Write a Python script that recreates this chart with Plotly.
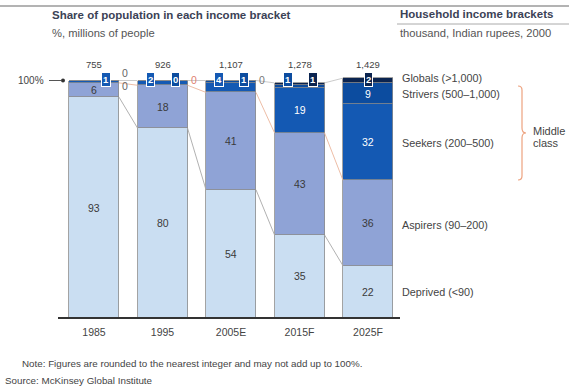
import plotly.graph_objects as go
import numpy as np

# ---------------- data ----------------
years = ["1985", "1995", "2005E", "2015F", "2025F"]
totals = ["755", "926", "1,107", "1,278", "1,429"]
deprived = [93, 80, 54, 35, 22]
aspirers = [6, 18, 41, 43, 36]
seekers = [1, 2, 4, 19, 32]
strivers = [0, 0, 1, 1, 9]
globals_ = [0, 0, 0, 1, 2]
bracket_labels = ["Globals (>1,000)", "Strivers (500–1,000)", "Seekers (200–500)",
                  "Aspirers (90–200)", "Deprived (<90)"]

series = [deprived, aspirers, seekers, strivers, globals_]
colors = ["#cadef2", "#8fa3d6", "#1459b3", "#0c4c9f", "#0b2450"]
text_colors = ["#3a3a3a", "#3a3a3a", "#ffffff", "#ffffff", "#ffffff"]
FAM = "Liberation Sans"

# ---------------- geometry helpers (page pixels) ----------------
W, H = 569, 392
TOP, BOT = 60, 318
X0, DX = 94.0, 68.5
DY = 2.375


def xd(px):
    return (px - X0) / DX


def yd(py):
    return (BOT - py) / DY


def PX(px):
    return px / W


def PY(py):
    return (BOT - py) / (BOT - TOP)


BW = 50 / DX
xs = list(range(len(years)))

fig = go.Figure()

# stacked bars
for s, c in zip(series, colors):
    fig.add_trace(go.Bar(x=xs, y=s, width=BW, marker=dict(color=c, line=dict(color="#8c8c8c", width=0.8)),
                         hoverinfo="skip", showlegend=False))

cum = np.cumsum(np.array(series), axis=0)
bottoms = cum - np.array(series)


def connector(level, color, width):
    for i in range(len(xs) - 1):
        fig.add_trace(go.Scatter(x=[xs[i] + BW / 2, xs[i + 1] - BW / 2], y=[level[i], level[i + 1]],
                                 mode="lines", line=dict(color=color, width=width),
                                 hoverinfo="skip", showlegend=False))


connector(cum[0], "#a8a8a8", 0.9)
connector(cum[1], "#ebb59c", 0.9)
connector(cum[4], "#c4c4c4", 0.9)

ann = []


def text(x, y, t, size, color, xanchor="center", xref="x", yref="y", **kw):
    ann.append(dict(x=x, y=y, xref=xref, yref=yref, text=t, showarrow=False, xanchor=xanchor,
                    yanchor="middle", font=dict(size=size, color=color, family=FAM), **kw))


# inside labels
for k, s in enumerate(series):
    for i, v in enumerate(s):
        if v >= 5:
            text(xs[i], bottoms[k][i] + v / 2, str(v), 10.5, text_colors[k])

# badges for small segments (tier index, horizontal offset in px)
badges = {0: [(2, 12)], 1: [(2, -12), (3, 13)], 2: [(2, -12), (3, 13)],
          3: [(3, -12), (4, 13)], 4: [(4, 0)]}
for i, lst in badges.items():
    for k, off in lst:
        text(xs[i] + off / DX, yd(79), "<b>%d</b>" % series[k][i], 9.5, "white",
             bgcolor=colors[k], bordercolor="white", borderwidth=1, borderpad=1)

# zero values placed outside
outside = [(0, 3, 73, "#666666"), (0, 4, 86, "#666666"), (1, 4, 80, "#e08070"), (2, 4, 80, "#777777")]
for i, k, py, col in outside:
    text(xs[i] + 31 / DX, yd(py), str(series[k][i]), 10.5, col)

# totals
for i, t in enumerate(totals):
    text(xs[i], yd(64), t, 9.5, "#444444")

# 100% marker
text(PX(46), PY(80.5), "100%", 10, "#444444", xanchor="right", xref="paper", yref="paper")

# right bracket labels
for lab, py in zip(bracket_labels, [78, 94, 143, 225, 292]):
    text(PX(400), PY(py), lab, 10.8, "#444444", xanchor="left", xref="paper", yref="paper")
text(PX(531), PY(131), "Middle", 11, "#444444", xanchor="left", xref="paper", yref="paper")
text(PX(531), PY(143), "class", 11, "#444444", xanchor="left", xref="paper", yref="paper")

# header
text(PX(50), PY(15.5), "<b>Share of population in each income bracket</b>", 11.5, "#3b4256",
     xanchor="left", xref="paper", yref="paper")
text(PX(50), PY(33), "%, millions of people", 11.2, "#555555", xanchor="left", xref="paper", yref="paper")
text(PX(398), PY(14.5), "<b>Household income brackets</b>", 11.5, "#3b4256",
     xanchor="left", xref="paper", yref="paper")
text(PX(398), PY(33), "thousand, Indian rupees, 2000", 11.2, "#555555", xanchor="left", xref="paper", yref="paper")

# footer
text(PX(20), PY(363), "Note: Figures are rounded to the nearest integer and may not add up to 100%.",
     9.8, "#444444", xanchor="left", xref="paper", yref="paper")
text(PX(3), PY(380), "Source: McKinsey Global Institute", 9.8, "#444444", xanchor="left",
     xref="paper", yref="paper")

shapes = [
    dict(type="line", xref="paper", yref="paper", x0=PX(0), x1=PX(569), y0=PY(6), y1=PY(6),
         line=dict(color="#9a9a9a", width=1.5)),
    dict(type="line", xref="paper", yref="paper", x0=PX(397), x1=PX(569), y0=PY(24), y1=PY(24),
         line=dict(color="#aaaaaa", width=1)),
    dict(type="line", xref="paper", yref="paper", x0=PX(58), x1=PX(400), y0=PY(318), y1=PY(318),
         line=dict(color="#333333", width=2)),
    dict(type="line", xref="paper", yref="paper", x0=PX(49), x1=PX(61), y0=PY(80.5), y1=PY(80.5),
         line=dict(color="#555555", width=1)),
    dict(type="circle", xref="paper", yref="paper", x0=PX(61), x1=PX(65), y0=PY(78.5), y1=PY(82.5),
         fillcolor="#333333", line=dict(color="#333333", width=0)),
]


def pt(px, py):
    return "%.5f,%.5f" % (PX(px), PY(py))


brace = ("M " + pt(518, 86) + " Q " + pt(522, 86) + " " + pt(522, 90) + " L " + pt(522, 128) +
         " Q " + pt(522, 133) + " " + pt(526, 133) + " Q " + pt(522, 133) + " " + pt(522, 138) +
         " L " + pt(522, 176) + " Q " + pt(522, 180) + " " + pt(518, 180))
shapes.append(dict(type="path", xref="paper", yref="paper", path=brace,
                   line=dict(color="#eda27f", width=1.2)))

fig.update_layout(
    width=W, height=H, barmode="stack", bargap=0,
    margin=dict(l=0, r=0, t=TOP, b=H - BOT, autoexpand=False),
    paper_bgcolor="white", plot_bgcolor="white",
    xaxis=dict(range=[xd(0), xd(W)], tickvals=xs, ticktext=years, showgrid=False, zeroline=False,
               showline=False, ticks="", ticklabelstandoff=6,
               tickfont=dict(size=10.5, color="#444444", family=FAM), fixedrange=True),
    yaxis=dict(range=[0, yd(TOP)], visible=False, fixedrange=True),
    annotations=ann, shapes=shapes, showlegend=False,
    font=dict(family=FAM),
)

fig.write_html("out.html")
